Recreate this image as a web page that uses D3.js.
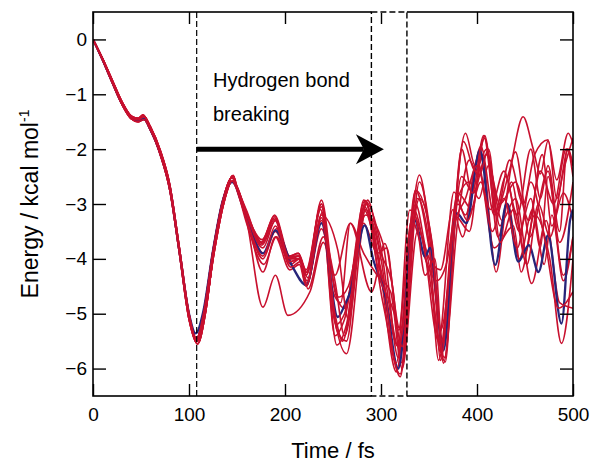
<!DOCTYPE html>
<html>
<head>
<meta charset="utf-8">
<script src="https://cdn.jsdelivr.net/npm/d3@7"></script>
<style>
  html, body { margin: 0; padding: 0; background: #fff; }
  svg { display: block; font-family: "Liberation Sans", Arial, sans-serif; }
</style>
</head>
<body>
<svg id="chart" width="590" height="464"></svg>
<script>
// ---------- DATA (time in fs, energy in kcal/mol) ----------
const xTicks = [0, 100, 200, 300, 400, 500];
const yTicks = [0, -1, -2, -3, -4, -5, -6];
const xLabel = "Time / fs";
const yLabelMain = "Energy / kcal mol";
const yLabelSup = "-1";
const annotationLines = ["Hydrogen bond", "breaking"];
const markerTime = 108;          // dashed line
const windowTimes = [290, 327];  // dashed box
const arrowFromTo = [108, 303];  // arrow (time)
const arrowEnergy = -2;

// shared early part of the red trajectories (three nearly identical variants)
const earlyA = [[0,0],[10,-0.36],[20,-0.76],[30,-1.15],[40,-1.42],[47,-1.47],[53,-1.41],[60,-1.62],[70,-2.05],[80,-2.7],[90,-3.85],[100,-5.05],[108,-5.45],[115,-5.0],[125,-3.85],[135,-2.95],[145,-2.52]];
const earlyB = [[0,0],[10,-0.38],[20,-0.79],[30,-1.18],[40,-1.45],[47,-1.5],[53,-1.46],[60,-1.66],[70,-2.1],[80,-2.75],[90,-3.9],[100,-5.1],[109,-5.55],[117,-5.0],[126,-3.85],[136,-2.95],[146,-2.48]];
const earlyC = [[0,0],[10,-0.35],[20,-0.74],[30,-1.13],[40,-1.4],[47,-1.44],[52,-1.38],[60,-1.6],[70,-2.02],[80,-2.65],[90,-3.8],[100,-5.0],[108,-5.5],[116,-5.05],[126,-3.9],[136,-3.0],[145,-2.58]];

// later (diverging) parts of the red trajectories
const red1  = [[150,-2.7],[160,-3.15],[176,-3.7],[189,-3.2],[205,-3.95],[214,-3.9],[223,-4.25],[238,-2.93],[252,-4.6],[262,-4.9],[283,-2.95],[300,-4.2],[318,-5.6],[340,-2.47],[352,-3.8],[362,-5.3],[388,-1.71],[398,-2.3],[408,-1.8],[420,-3.1],[434,-2.38],[448,-1.41],[458,-1.96],[466,-2.45],[474,-1.85],[483,-2.56],[495,-1.71],[500,-1.9]];
const red2  = [[150,-2.75],[160,-3.3],[177,-4.88],[190,-4.3],[203,-5.03],[226,-4.6],[240,-3.7],[252,-4.3],[268,-3.35],[290,-4.6],[304,-3.72],[320,-5.3],[336,-2.75],[352,-4.0],[365,-5.5],[386,-1.86],[398,-2.4],[410,-2.0],[424,-3.4],[440,-2.05],[455,-3.6],[474,-2.4],[486,-3.7],[500,-2.6]];
const red3  = [[150,-2.68],[160,-3.2],[176,-3.75],[190,-3.3],[205,-4.0],[215,-3.95],[222,-4.3],[238,-3.05],[252,-5.4],[262,-5.1],[284,-3.0],[302,-4.5],[320,-6.15],[338,-2.9],[350,-3.7],[360,-5.85],[380,-2.8],[395,-3.1],[408,-1.75],[422,-3.6],[436,-2.6],[450,-3.9],[468,-2.1],[478,-3.4],[490,-2.8],[500,-3.3]];
const red4  = [[150,-2.7],[160,-3.25],[177,-4.0],[190,-3.5],[206,-4.1],[215,-4.0],[223,-4.45],[238,-3.25],[254,-5.57],[264,-5.2],[282,-3.1],[298,-4.1],[316,-6.06],[334,-3.1],[348,-4.1],[367,-5.88],[378,-3.23],[392,-3.5],[405,-2.1],[420,-4.24],[432,-3.0],[444,-4.0],[458,-3.1],[470,-4.1],[478,-3.2],[490,-4.4],[500,-3.6]];
const red5  = [[150,-2.72],[160,-3.2],[177,-4.24],[190,-3.6],[205,-4.2],[215,-4.1],[222,-4.5],[238,-3.45],[256,-4.7],[266,-4.5],[284,-3.2],[302,-3.72],[318,-5.8],[336,-3.0],[348,-3.9],[362,-4.2],[375,-3.1],[385,-3.6],[400,-2.2],[418,-3.8],[438,-3.4],[446,-4.24],[460,-3.2],[476,-4.02],[488,-5.54],[500,-4.0]];
const red6  = [[150,-2.7],[160,-3.18],[176,-3.65],[189,-3.25],[204,-3.95],[214,-3.95],[222,-4.2],[238,-3.0],[250,-4.9],[264,-5.73],[286,-2.93],[300,-3.9],[312,-4.5],[322,-5.9],[340,-2.6],[354,-3.9],[364,-5.6],[384,-2.5],[396,-2.8],[410,-2.1],[426,-3.3],[440,-2.9],[457,-4.45],[472,-3.3],[486,-4.8],[500,-4.9]];
const red7  = [[150,-2.7],[160,-3.22],[178,-3.9],[191,-3.45],[206,-4.05],[215,-4.0],[224,-4.35],[239,-3.15],[253,-5.2],[262,-5.0],[282,-3.35],[296,-3.9],[306,-3.8],[318,-5.3],[332,-3.3],[345,-3.95],[358,-4.4],[368,-4.1],[380,-3.0],[388,-3.2],[404,-1.95],[418,-3.2],[430,-2.5],[444,-3.5],[456,-2.9],[466,-3.8],[474,-2.5],[490,-4.3],[500,-3.6]];
const red8  = [[150,-2.68],[160,-3.12],[175,-3.7],[189,-3.22],[204,-3.95],[214,-3.9],[222,-4.25],[237,-3.1],[250,-4.6],[258,-4.8],[268,-3.35],[282,-3.9],[296,-4.3],[310,-4.6],[322,-6.0],[338,-3.5],[352,-4.3],[362,-5.7],[378,-3.0],[392,-2.6],[402,-2.9],[412,-2.3],[424,-3.0],[440,-2.6],[454,-3.3],[466,-2.4],[480,-3.0],[493,-2.0],[500,-2.3]];
const red9  = [[150,-2.75],[160,-3.35],[178,-4.1],[191,-3.6],[206,-4.15],[216,-4.05],[224,-4.55],[240,-3.6],[252,-4.4],[262,-5.4],[284,-3.1],[300,-4.0],[316,-5.9],[330,-3.11],[344,-3.7],[360,-5.5],[376,-2.78],[390,-3.3],[404,-2.6],[416,-3.5],[428,-2.9],[442,-3.8],[456,-2.6],[470,-3.6],[485,-4.9],[500,-4.6]];
const red10 = [[150,-2.72],[160,-3.2],[177,-3.8],[190,-3.3],[205,-4.0],[214,-4.0],[223,-4.4],[238,-3.2],[255,-3.84],[266,-5.1],[284,-2.95],[298,-4.3],[314,-5.0],[322,-5.6],[336,-2.75],[352,-3.6],[366,-5.8],[384,-2.0],[395,-2.8],[407,-1.75],[420,-3.2],[434,-2.2],[448,-3.0],[460,-2.1],[474,-1.83],[483,-2.9],[495,-2.0],[500,-2.3]];
const red11 = [[150,-2.7],[160,-3.28],[177,-3.95],[190,-3.4],[205,-4.05],[215,-4.0],[222,-4.5],[238,-3.3],[252,-5.0],[260,-5.5],[283,-3.05],[302,-4.8],[320,-6.1],[335,-3.2],[346,-4.3],[356,-4.0],[365,-5.9],[380,-3.3],[392,-2.2],[402,-2.5],[412,-2.0],[424,-3.7],[438,-3.1],[452,-4.1],[464,-3.0],[476,-3.6],[490,-2.4],[500,-1.8]];
const red12 = [[150,-2.7],[160,-3.18],[176,-3.72],[189,-3.28],[204,-3.98],[214,-3.95],[222,-4.3],[238,-3.0],[254,-5.3],[264,-5.5],[282,-2.93],[300,-3.8],[310,-5.0],[318,-5.6],[340,-2.9],[354,-3.8],[362,-5.85],[376,-3.4],[388,-2.9],[400,-2.3],[414,-3.1],[428,-2.4],[442,-3.2],[456,-2.0],[466,-2.9],[474,-2.3],[486,-3.5],[494,-2.0],[500,-2.5]];

// highlighted (blue) trajectory
const blueSeries = [[0,0],[10,-0.37],[20,-0.77],[30,-1.16],[40,-1.42],[48,-1.48],[53,-1.45],[60,-1.65],[70,-2.07],[80,-2.7],[90,-3.85],[100,-5.0],[107,-5.36],[115,-4.95],[125,-3.85],[135,-2.95],[145,-2.6],[160,-3.25],[177,-3.9],[190,-3.48],[208,-4.15],[222,-4.48],[238,-3.35],[255,-5.06],[262,-4.85],[268,-4.6],[283,-3.39],[292,-4.02],[304,-4.63],[318,-6.0],[335,-3.29],[346,-3.96],[351,-3.8],[365,-5.67],[379,-3.17],[389,-3.35],[403,-2.02],[419,-4.11],[431,-2.99],[443,-4.05],[454,-3.75],[464,-4.24],[474,-3.57],[488,-5.18],[497,-3.29],[500,-3.1]];

const redLate = [red1, red2, red3, red4, red5, red6, red7, red8, red9, red10, red11, red12];
const earlyVariants = [earlyA, earlyB, earlyC];

// ---------- DRAWING ----------
const svg = d3.select("#chart");
const x = d3.scaleLinear().domain([0, 500]).range([93, 573]);
const y = d3.scaleLinear().domain([-6.5, 0.5]).range([396, 12]);

const RED = "#c8102e", BLUE = "#27257a";

svg.append("defs").append("clipPath").attr("id", "plotclip")
  .append("rect").attr("x", x(0)).attr("y", y(0.5))
  .attr("width", x(500) - x(0)).attr("height", y(-6.5) - y(0.5));

const line = d3.line().x(d => x(d[0])).y(d => y(d[1])).curve(d3.curveMonotoneX);

const gLines = svg.append("g").attr("clip-path", "url(#plotclip)");
const redSeries = redLate.map((late, i) => earlyVariants[i % 3].concat(late));

redSeries.forEach((s, i) => {
  gLines.append("path").datum(s)
    .attr("d", line).attr("fill", "none")
    .attr("stroke", RED).attr("stroke-width", 1.6)
    .attr("stroke-linejoin", "round");
  if (i === 7) {
    gLines.append("path").datum(blueSeries)
      .attr("d", line).attr("fill", "none")
      .attr("stroke", BLUE).attr("stroke-width", 2.3)
      .attr("stroke-linejoin", "round");
  }
});

// axes (inward ticks on all sides)
const axStyle = g => {
  g.select(".domain").remove();
  g.selectAll(".tick line").attr("stroke", "#000").attr("stroke-width", 1.4);
  g.selectAll(".tick text").attr("fill", "#000").attr("font-size", 19)
    .attr("font-family", "Liberation Sans, Arial, sans-serif");
};
svg.append("g").attr("transform", `translate(0,${y(-6.5)})`)
  .call(d3.axisBottom(x).tickValues(xTicks).tickSize(-12).tickPadding(12).tickFormat(d3.format("d")))
  .call(axStyle);
svg.append("g").attr("transform", `translate(0,${y(0.5)})`)
  .call(d3.axisTop(x).tickValues(xTicks).tickSize(-12).tickFormat(""))
  .call(axStyle);
svg.append("g").attr("transform", `translate(${x(0)},0)`)
  .call(d3.axisLeft(y).tickValues(yTicks).tickSize(-13).tickPadding(6).tickFormat(d3.format("d")))
  .call(axStyle);
svg.append("g").attr("transform", `translate(${x(500)},0)`)
  .call(d3.axisRight(y).tickValues(yTicks).tickSize(-13).tickFormat(""))
  .call(axStyle);

// frame
svg.append("rect").attr("x", x(0)).attr("y", y(0.5))
  .attr("width", x(500) - x(0)).attr("height", y(-6.5) - y(0.5))
  .attr("fill", "none").attr("stroke", "#000").attr("stroke-width", 1.6);

// dashed marker line and dashed window
svg.append("line")
  .attr("x1", x(markerTime)).attr("x2", x(markerTime))
  .attr("y1", y(0.5)).attr("y2", y(-6.5))
  .attr("stroke", "#000").attr("stroke-width", 1.2).attr("stroke-dasharray", "6,3");
[0.5, -6.5].forEach(v => {
  svg.append("line").attr("x1", x(windowTimes[0])).attr("x2", x(windowTimes[1]))
    .attr("y1", y(v)).attr("y2", y(v)).attr("stroke", "#fff").attr("stroke-width", 2);
});
svg.append("rect")
  .attr("x", x(windowTimes[0])).attr("y", y(0.5))
  .attr("width", x(windowTimes[1]) - x(windowTimes[0])).attr("height", y(-6.5) - y(0.5))
  .attr("fill", "none").attr("stroke", "#000").attr("stroke-width", 1.4)
  .attr("stroke-dasharray", "6,3");

// arrow
const ay = y(arrowEnergy);
const headBack = x(arrowFromTo[1]) - 28;
svg.append("line")
  .attr("x1", x(arrowFromTo[0])).attr("x2", headBack + 8)
  .attr("y1", ay).attr("y2", ay)
  .attr("stroke", "#000").attr("stroke-width", 5);
svg.append("path")
  .attr("d", `M${x(arrowFromTo[1])},${ay} L${headBack},${ay - 15} L${headBack + 8},${ay} L${headBack},${ay + 15} Z`)
  .attr("fill", "#000");

// annotation
const ann = svg.append("text").attr("font-size", 20).attr("fill", "#000");
ann.append("tspan").attr("x", x(125)).attr("y", y(-0.86)).text(annotationLines[0]);
ann.append("tspan").attr("x", x(125)).attr("y", y(-1.49)).text(annotationLines[1]);

// axis titles
svg.append("text").attr("x", (x(0) + x(500)) / 2).attr("y", 458)
  .attr("text-anchor", "middle").attr("font-size", 22).attr("fill", "#000")
  .text(xLabel);
const yl = svg.append("text")
  .attr("transform", `translate(38,${(y(0.5) + y(-6.5)) / 2}) rotate(-90)`)
  .attr("text-anchor", "middle").attr("font-size", 23).attr("fill", "#000");
yl.append("tspan").text(yLabelMain);
yl.append("tspan").attr("font-size", 14).attr("dy", -9).text(yLabelSup);
</script>
</body>
</html>
